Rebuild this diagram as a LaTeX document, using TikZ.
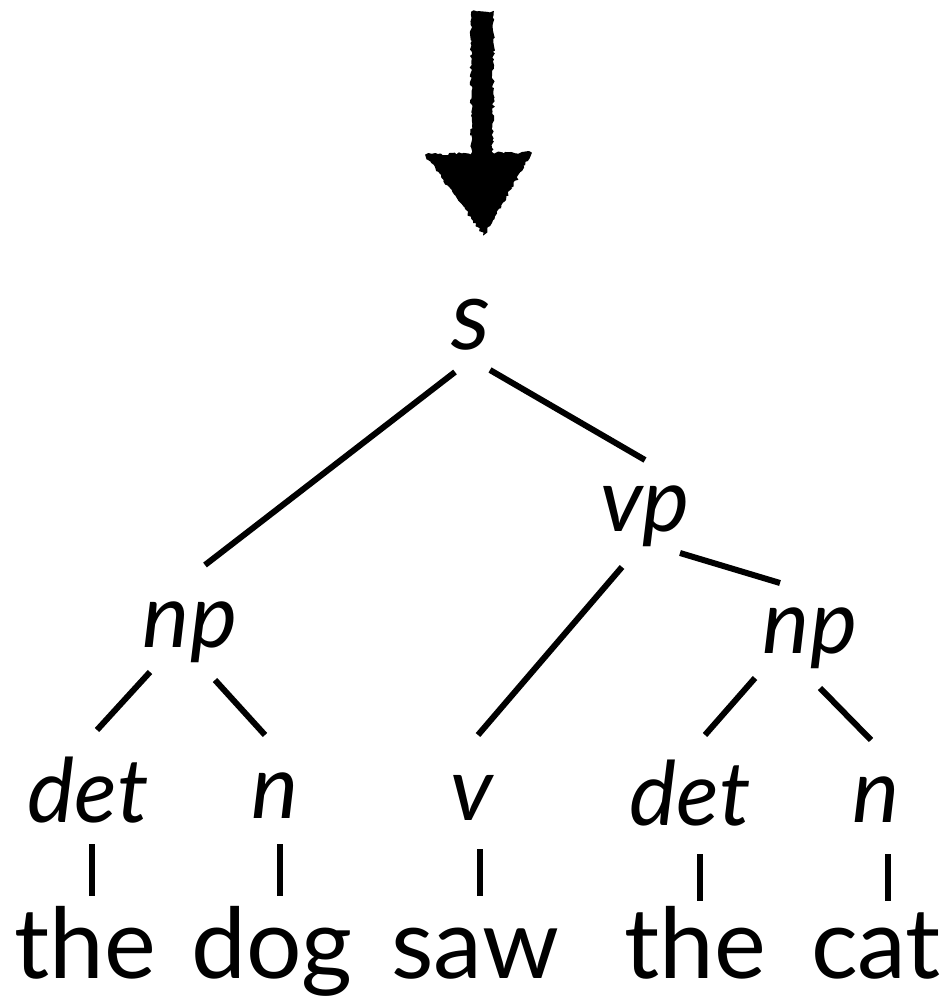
\documentclass[tikz,border=0pt]{standalone}
\usepackage{fontspec}
\setmainfont{Lato}
\usetikzlibrary{decorations.pathmorphing}
\begin{document}
\begin{tikzpicture}[x=1pt,y=-1pt,
  cat/.style={anchor=base,inner sep=0pt,font=\fontsize{89}{89}\selectfont\itshape},
  word/.style={anchor=base,inner sep=0pt,font=\fontsize{98}{98}\selectfont},
  edge/.style={line width=6pt},
  rough/.style={fill=black,draw=black,line width=1.5pt,
    decorate,decoration={random steps,segment length=2.5pt,amplitude=1.4pt}}]
\useasboundingbox (0,0) rectangle (943,998);
% hand-drawn arrow above the root
\path[rough] (472,12) -- (493,12) -- (492,156) -- (472,156) -- cycle;
\path[rough] (426,155) -- (531,153) -- (484,234) -- cycle;
% category labels
\node[cat,font=\fontsize{98}{98}\selectfont\itshape] (s) at (471,349) {s};
\node[cat] (vp) at (645,531) {vp};
\node[cat] (npL) at (190,647) {np};
\node[cat] (npR) at (810,653) {np};
\node[cat] (detL) at (88,822) {det};
\node[cat] (nL) at (275,818) {n};
\node[cat] (v) at (472,820) {v};
\node[cat] (detR) at (690,825) {det};
\node[cat] (nR) at (876,822) {n};
% words
\node[word] (w1) at (85,978) {the};
\node[word] (w2) at (272,978) {dog};
\node[word] (w3) at (475,978) {saw};
\node[word] (w4) at (695,978) {the};
\node[word] (w5) at (876,978) {cat};
% branches
\draw[edge] ([shift={(-16,23)}]s.base) -- ([shift={(15,-82)}]npL.base);
\draw[edge] ([shift={(19,21)}]s.base) -- ([shift={(0,-71)}]vp.base);
\draw[edge] ([shift={(35,22)}]vp.base) -- ([shift={(-30,-70)}]npR.base);
\draw[edge] ([shift={(-23,36)}]vp.base) -- ([shift={(6,-85)}]v.base);
\draw[edge] ([shift={(-40,25)}]npL.base) -- ([shift={(9,-92)}]detL.base);
\draw[edge] ([shift={(25,33)}]npL.base) -- ([shift={(-10,-83)}]nL.base);
\draw[edge] ([shift={(-55,25)}]npR.base) -- ([shift={(15,-90)}]detR.base);
\draw[edge] ([shift={(10,35)}]npR.base) -- ([shift={(-5,-82)}]nR.base);
% lexical ticks
\draw[edge] ([shift={(4,22)}]detL.base) -- ([shift={(7,-82)}]w1.base);
\draw[edge] ([shift={(5,26)}]nL.base) -- ([shift={(8,-82)}]w2.base);
\draw[edge] ([shift={(8,29)}]v.base) -- ([shift={(5,-82)}]w3.base);
\draw[edge] ([shift={(10,29)}]detR.base) -- ([shift={(5,-77)}]w4.base);
\draw[edge] ([shift={(12,32)}]nR.base) -- ([shift={(12,-77)}]w5.base);
\end{tikzpicture}
\end{document}
